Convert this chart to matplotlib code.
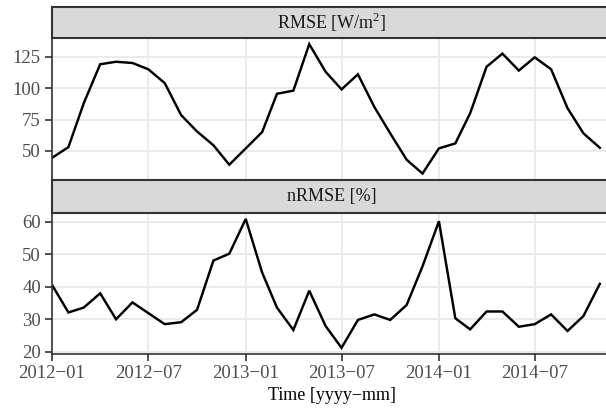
import matplotlib.pyplot as plt
import pandas as pd

plt.rcParams['font.family'] = ['Liberation Serif', 'DejaVu Serif']
plt.rcParams['mathtext.fontset'] = 'custom'
plt.rcParams['mathtext.rm'] = 'Liberation Serif'

# monthly values, 2012-01 .. 2014-11
months = pd.date_range('2012-01-01', '2014-11-01', freq='MS')
rmse = [44.5, 53, 88, 119, 121, 120, 115, 104, 78.5, 65.5, 54.5, 39,
        52, 65, 95.5, 98, 135, 113, 99, 111, 85, 64, 43, 32,
        52, 56, 80, 117, 127.5, 114, 124.5, 115, 84, 64, 52.5]
nrmse = [40.6, 32.1, 33.6, 38.0, 30.0, 35.2, 31.9, 28.5, 29.1, 32.9, 48.1, 50.2,
         60.9, 44.4, 33.6, 26.7, 38.8, 27.9, 21.2, 29.8, 31.5, 29.8, 34.4, 46.3,
         60.2, 30.3, 26.9, 32.4, 32.4, 27.7, 28.5, 31.5, 26.4, 31.0, 40.9]

panels = ['RMSE [W/$\\mathrm{m}^{2}$]', 'nRMSE [%]']
yticks = [[50, 75, 100, 125], [20, 30, 40, 50, 60]]
xticks = pd.to_datetime(['2012-01-01', '2012-07-01', '2013-01-01',
                         '2013-07-01', '2014-01-01', '2014-07-01'])
xticklabels = ['2012−01', '2012−07', '2013−01', '2013−07', '2014−01', '2014−07']

W, H = 606, 408


def box(x0, y0, x1, y1):
    return [x0 / W, 1 - y1 / H, (x1 - x0) / W, (y1 - y0) / H]


fig = plt.figure(figsize=(6.06, 4.08), dpi=100)

panel_boxes = [(52, 37.7, 612, 180), (52, 212.5, 612, 354.3)]
strip_boxes = [(52, 7, 612, 37.7), (52, 180, 612, 212.5)]
dark = '#333333'

for i, (vals, title) in enumerate(zip([rmse, nrmse], panels)):
    ax = fig.add_axes(box(*panel_boxes[i]))
    ax.plot(months, vals, color='black', lw=1.75, solid_joinstyle='miter')
    lo, hi = min(vals), max(vals)
    pad = 0.05 * (hi - lo)
    ax.set_ylim(lo - pad, hi + pad)
    ax.set_xlim(pd.Timestamp('2012-01-01'), pd.Timestamp('2012-01-01') + pd.Timedelta(days=1058))
    ax.set_yticks(yticks[i])
    ax.set_xticks(xticks)
    ax.grid(color='#EBEBEB', lw=1.4)
    ax.set_axisbelow(True)
    for s in ['top', 'right', 'bottom']:
        ax.spines[s].set_visible(False)
    ax.spines['left'].set_color(dark)
    ax.spines['left'].set_linewidth(1.2)
    ax.tick_params(axis='both', length=5, width=1.2, color=dark,
                   labelsize=13.5, labelcolor='#4D4D4D', pad=3)
    if i == 0:
        ax.tick_params(axis='x', length=0, labelbottom=False)
    else:
        ax.spines['bottom'].set_visible(True)
        ax.spines['bottom'].set_color(dark)
        ax.spines['bottom'].set_linewidth(1.2)
        ax.set_xticklabels(xticklabels)

    st = fig.add_axes(box(*strip_boxes[i]))
    st.set_facecolor('#D9D9D9')
    st.set_xticks([])
    st.set_yticks([])
    st.spines['right'].set_visible(False)
    for s in ['top', 'bottom', 'left']:
        st.spines[s].set_color(dark)
        st.spines[s].set_linewidth(1.5)
    st.text(0.5, 0.5, title, ha='center', va='center', fontsize=13,
            color='#1A1A1A', transform=st.transAxes)

fig.text(332 / W, 1 - 396 / H, 'Time [yyyy−mm]', ha='center', va='center', fontsize=13)

fig.savefig('out.png', dpi=100)
